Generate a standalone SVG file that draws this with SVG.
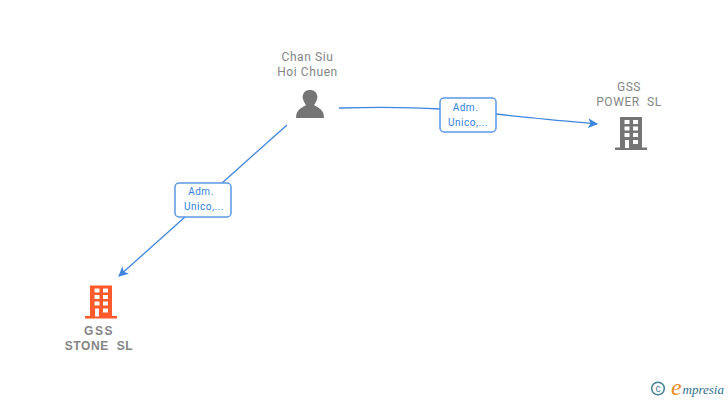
<svg xmlns="http://www.w3.org/2000/svg" width="728" height="400" viewBox="0 0 728 400">
<style>
text{white-space:pre}
.lab{font-family:"Roboto","Liberation Sans",sans-serif;font-size:12px;fill:#858585;text-anchor:middle;letter-spacing:.6px}
.bold{font-family:"Liberation Sans",sans-serif;font-size:12px;font-weight:bold;fill:#858585;text-anchor:middle;letter-spacing:1px}
.edge{font-family:"Roboto","Liberation Sans",sans-serif;font-size:10px;fill:#2f7fe0;text-anchor:middle;letter-spacing:.5px}
.conn{fill:none;stroke:#3f86e0;stroke-width:1.3}
.box{fill:#fff;stroke:#5a98e6;stroke-width:1.500}
</style>
<defs>
<marker id="arrow" viewBox="0 0 10 10" refX="9" refY="5" markerWidth="10" markerHeight="10" markerUnits="userSpaceOnUse" orient="auto"><path d="M0 0L10 5L0 10L2.500 5Z" fill="#3f86e0"/></marker>
<g id="bld"><path fill-rule="evenodd" d="M-11 -16H11V14.500H16V17H-16V14.500H-11ZM-6.500 -13V-9H-1.500V-13ZM2 -13V-9H7V-13ZM-6.500 -6.500V-2.500H-1.500V-6.500ZM2 -6.500V-2.500H7V-6.500ZM-6.500 0V4H-1.500V0ZM2 0V4H7V0ZM-6 7V15H-2V7ZM2 7V11H7V7Z"/></g>
</defs>
<g id="connectors">
<path class="conn" d="M339 108C375 107 410 107 440 109"/>
<path class="conn" d="M496 114C530 118 565 121 597 124" marker-end="url(#arrow)"/>
<path class="conn" d="M287 125L222 183"/>
<path class="conn" d="M185 217L119 276" marker-end="url(#arrow)"/>
</g>
<g id="edge1"><rect class="box" x="440" y="98" width="56" height="34" rx="4"/><text class="edge" x="465.500" y="111">Adm.</text><text class="edge" x="468" y="126">Unico,...</text></g>
<g id="edge2"><rect class="box" x="175" y="183" width="56" height="34" rx="4"/><text class="edge" x="201" y="195">Adm.</text><text class="edge" x="204" y="210">Unico,...</text></g>
<g id="node-chan"><text class="lab" x="307.500" y="61">Chan Siu</text><text class="lab" x="307.500" y="76">Hoi Chuen</text>
<path fill="#757575" d="M296 118C296 109 302 108 306 105C303 101 302 97 303 95C304 91 307 90 310 90C313 90 316 91 317 95C318 97 317 101 314 105C318 108 324 109 324 118Z"/></g>
<g id="node-power"><text class="lab" x="629" y="91">GSS</text><text class="lab" x="629" y="106">POWER  SL</text><use href="#bld" x="631" y="133" fill="#757575"/></g>
<g id="node-stone"><use href="#bld" x="101" y="301.500" fill="#ff5a2c"/><text class="bold" x="99" y="335" style="letter-spacing:1.500px">GSS</text><text class="bold" x="99" y="350" style="letter-spacing:.6px">STONE  SL</text></g>
<g id="logo"><circle cx="658" cy="388.500" r="6.300" fill="none" stroke="#3f7f95" stroke-width="1.500"/><text x="658" y="392" font-family="Liberation Sans,sans-serif" font-size="10" fill="#3f7f95" text-anchor="middle">c</text>
<text x="671" y="395" font-family="Liberation Serif,serif" font-style="italic" font-size="24" fill="#f08a1d">e</text>
<text x="682.500" y="394" font-family="Liberation Serif,serif" font-style="italic" font-size="13" fill="#2f6f8f">mpresia</text></g>
</svg>
